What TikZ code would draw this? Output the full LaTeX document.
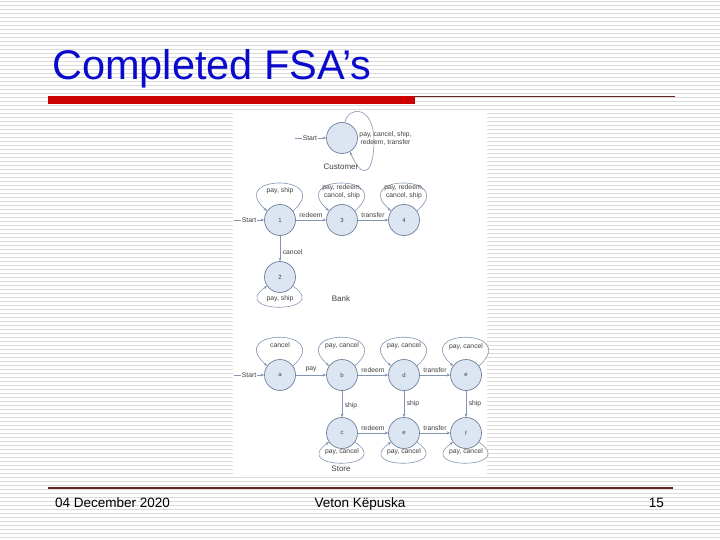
\documentclass[tikz,border=0pt]{standalone}
\usepackage{fontspec}
\setmainfont{Liberation Sans}
\usetikzlibrary{arrows.meta}
\definecolor{stripe}{HTML}{DADADA}
\definecolor{titleblue}{HTML}{0A0ACC}
\definecolor{barred}{HTML}{CC0000}
\definecolor{maroon}{HTML}{6B2424}
\definecolor{edgec}{HTML}{8396B2}
\definecolor{nodeline}{HTML}{6F8099}
\definecolor{nodefill}{HTML}{DCE6F2}
\definecolor{txt}{HTML}{404040}
\begin{document}
\begin{tikzpicture}[x=1pt,y=-1pt,
  st/.style={circle,draw=nodeline,fill=nodefill,line width=0.7pt,minimum size=31pt,inner sep=0pt,font=\fontsize{6}{7}\selectfont,text=txt},
  lbl/.style={font=\fontsize{6.8}{8}\selectfont,text=txt,inner sep=0.5pt,align=center},
  grp/.style={font=\fontsize{8}{9}\selectfont,text=txt},
  tr/.style={draw=edgec,line width=0.6pt,-{Stealth[length=3.5pt,width=3pt]}},
  startlbl/.style={lbl,fill=white,inner sep=1pt},
  foot/.style={font=\fontsize{13.5}{16}\selectfont,text=black,inner sep=0pt,anchor=base}
]
\useasboundingbox (0,0) rectangle (720,540);
\fill[white] (0,0) rectangle (720,540);
\foreach \i in {0,...,134} \fill[stripe] (0,{4*\i+1}) rectangle (720,{4*\i+2.3});
% panel
\fill[white] (233,113) rectangle (487,477);
% title
\node[anchor=base west,text=titleblue,font=\fontsize{41.5}{48}\selectfont,inner sep=0pt] (title) at (52,80) {Completed FSA’s};
\fill[barred] (48,96) rectangle (415,104);
\draw[maroon,line width=1.3pt] (415,96.7) -- (675,96.7);
% footer
\draw[maroon,line width=1.3pt] (48,488) -- (673,488);
\node[foot,anchor=base west] (date) at (55,507) {04 December 2020};
\node[foot] (author) at (360,507) {Veton Këpuska};
\node[foot,anchor=base east] (page) at (664,507) {15};

% ---------- Customer ----------
\node[st] (cu) at (342,138) {};
\coordinate (cus) at (295,138);
\coordinate (cuR) at (374,141);
\draw[tr] (cus) -- node[startlbl,pos=0.48]{Start} (cu);
\draw[tr] (cu.80) .. controls (349,105) and (374,106) .. (cuR) .. controls (374,170) and (364,184) .. (cu.-60);
\node[lbl] (culbl) at (385.5,138) {pay, cancel, ship,\\redeem, transfer};
\node[grp] (cuname) at (341,167) {Customer};

% ---------- Bank ----------
\node[st] (b1) at (280,220) {1};
\node[st] (b3) at (342,220) {3};
\node[st] (b4) at (404,220) {4};
\node[st] (b2) at (280,277) {2};
\coordinate (bs) at (234,220);
\draw[tr] (bs) -- node[startlbl]{Start} (b1);
\draw[tr] (b1) -- node[lbl,above=2pt]{redeem} (b3);
\draw[tr] (b3) -- node[lbl,above=2pt]{transfer} (b4);
\draw[tr] (b1) -- node[lbl,right=2pt,pos=0.65]{cancel} (b2);
\foreach \n in {b1,b3,b4}
  \draw[tr] (\n.35) .. controls +(42,-37) and +(-42,-37) .. (\n.145);
\draw[tr] (b2.-35) .. controls +(40,28) and +(-40,28) .. (b2.-145);
\node[lbl] (l1) at (280,191) {pay, ship};
\node[lbl] (l3) at (342,192) {pay, redeem,\\cancel, ship};
\node[lbl] (l4) at (404,192) {pay, redeem,\\cancel, ship};
\node[lbl] (l2) at (280,299) {pay, ship};
\node[grp] (bname) at (341,299) {Bank};

% ---------- Store ----------
\node[st] (sa) at (280,375) {a};
\node[st] (sb) at (342,375) {b};
\node[st] (sd) at (404,375) {d};
\node[st] (se) at (466,375) {e};
\node[st] (sc) at (342,433) {c};
\node[st] (se2) at (404,433) {e};
\node[st] (sf) at (466,433) {f};
\coordinate (ss) at (234,375);
\draw[tr] (ss) -- node[startlbl]{Start} (sa);
\draw[tr] (sa) -- node[lbl,above=2pt]{pay} (sb);
\draw[tr] (sb) -- node[lbl,above=2pt]{redeem} (sd);
\draw[tr] (sd) -- node[lbl,above=2pt]{transfer} (se);
\draw[tr] (sc) -- node[lbl,above=2pt]{redeem} (se2);
\draw[tr] (se2) -- node[lbl,above=2pt]{transfer} (sf);
\draw[tr] (sb) -- node[lbl,right=2pt,pos=0.55]{ship} (sc);
\draw[tr] (sd) -- node[lbl,right=2pt,pos=0.5]{ship} (se2);
\draw[tr] (se) -- node[lbl,right=2pt,pos=0.5]{ship} (sf);
\foreach \n in {sa,sb,sd,se}
  \draw[tr] (\n.35) .. controls +(42,-38) and +(-42,-38) .. (\n.145);
\foreach \n in {sc,se2,sf}
  \draw[tr] (\n.-35) .. controls +(40,28) and +(-40,28) .. (\n.-145);
\node[lbl] (la) at (280,345) {cancel};
\node[lbl] (lb) at (342,346) {pay, cancel};
\node[lbl] (ld) at (404,346) {pay, cancel};
\node[lbl] (le) at (466,347) {pay, cancel};
\node[lbl] (lc) at (342,452) {pay, cancel};
\node[lbl] (le2) at (404,452) {pay, cancel};
\node[lbl] (lf) at (466,452) {pay, cancel};
\node[grp] (sname) at (341,469) {Store};
\end{tikzpicture}
\end{document}
